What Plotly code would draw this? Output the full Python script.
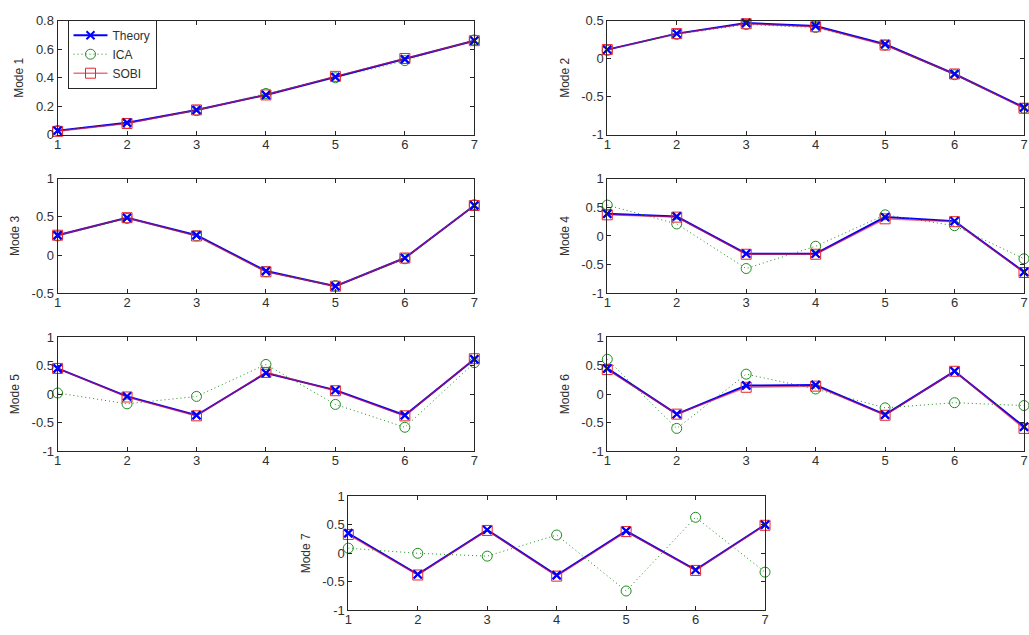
import plotly.graph_objects as go

x = [1, 2, 3, 4, 5, 6, 7]
x_tick_labels = ["1", "2", "3", "4", "5", "6", "7"]

mode_names = ["Mode 1", "Mode 2", "Mode 3", "Mode 4", "Mode 5", "Mode 6", "Mode 7"]

theory_1 = [0.03, 0.085, 0.175, 0.28, 0.405, 0.53, 0.66]
ica_1 = [0.03, 0.08, 0.17, 0.29, 0.40, 0.52, 0.665]
sobi_1 = [0.025, 0.08, 0.175, 0.28, 0.41, 0.535, 0.66]

theory_2 = [0.12, 0.33, 0.47, 0.43, 0.19, -0.20, -0.64]
ica_2 = [0.11, 0.32, 0.45, 0.41, 0.18, -0.21, -0.65]
sobi_2 = [0.12, 0.33, 0.46, 0.42, 0.18, -0.20, -0.65]

theory_3 = [0.26, 0.49, 0.26, -0.21, -0.41, -0.04, 0.65]
ica_3 = [0.25, 0.48, 0.25, -0.22, -0.40, -0.05, 0.66]
sobi_3 = [0.26, 0.49, 0.25, -0.22, -0.41, -0.04, 0.65]

theory_4 = [0.39, 0.34, -0.31, -0.31, 0.33, 0.26, -0.63]
ica_4 = [0.54, 0.21, -0.57, -0.18, 0.37, 0.18, -0.40]
sobi_4 = [0.37, 0.33, -0.32, -0.32, 0.30, 0.25, -0.64]

theory_5 = [0.45, -0.04, -0.37, 0.37, 0.07, -0.37, 0.61]
ica_5 = [0.02, -0.17, -0.04, 0.52, -0.18, -0.58, 0.55]
sobi_5 = [0.45, -0.05, -0.38, 0.38, 0.06, -0.38, 0.62]

theory_6 = [0.45, -0.35, 0.15, 0.16, -0.36, 0.40, -0.57]
ica_6 = [0.61, -0.60, 0.35, 0.09, -0.24, -0.15, -0.20]
sobi_6 = [0.43, -0.35, 0.12, 0.14, -0.37, 0.40, -0.60]

theory_7 = [0.35, -0.37, 0.41, -0.385, 0.39, -0.29, 0.50]
ica_7 = [0.09, 0.00, -0.05, 0.32, -0.66, 0.63, -0.33]
sobi_7 = [0.33, -0.38, 0.40, -0.40, 0.38, -0.30, 0.49]

theory = [theory_1, theory_2, theory_3, theory_4, theory_5, theory_6, theory_7]
ica = [ica_1, ica_2, ica_3, ica_4, ica_5, ica_6, ica_7]
sobi = [sobi_1, sobi_2, sobi_3, sobi_4, sobi_5, sobi_6, sobi_7]

y_ranges = [[0, 0.8], [-1, 0.5], [-0.5, 1], [-1, 1], [-1, 1], [-1, 1], [-1, 1]]
y_tick_vals = [
    [0, 0.2, 0.4, 0.6, 0.8],
    [-1, -0.5, 0, 0.5],
    [-0.5, 0, 0.5, 1],
    [-1, -0.5, 0, 0.5, 1],
    [-1, -0.5, 0, 0.5, 1],
    [-1, -0.5, 0, 0.5, 1],
    [-1, -0.5, 0, 0.5, 1],
]
y_tick_labels = [
    ["0", "0.2", "0.4", "0.6", "0.8"],
    ["-1", "-0.5", "0", "0.5"],
    ["-0.5", "0", "0.5", "1"],
    ["-1", "-0.5", "0", "0.5", "1"],
    ["-1", "-0.5", "0", "0.5", "1"],
    ["-1", "-0.5", "0", "0.5", "1"],
    ["-1", "-0.5", "0", "0.5", "1"],
]

W, H = 1029, 635
PW, PH = 420, 117
lefts = [54, 608]
tops = [14, 176, 338, 501]

FONT = "Arial, Liberation Sans, sans-serif"
TXT = "#303030"
AX = "#262626"

BLUE = "#0000FF"
GREEN = "#1E8C1E"
RED = "#E8242B"
RED_LINE = "rgba(225, 20, 40, 0.6)"

fig = go.Figure()
layout = {}

for k in range(7):
    row, col = divmod(k, 2)
    left = 347 if k == 6 else lefts[col]
    top = tops[row]
    xd = [left / W, (left + PW) / W]
    yd = [1 - (top + PH) / H, 1 - top / H]
    sfx = "" if k == 0 else str(k + 1)
    xa, ya = "x" + sfx, "y" + sfx
    common = dict(
        showline=True, linecolor=AX, linewidth=1, mirror="ticks",
        ticks="inside", ticklen=4, tickcolor=AX, tickwidth=1,
        showgrid=False, zeroline=False,
        tickfont=dict(family=FONT, size=13, color=TXT),
    )
    layout["xaxis" + sfx] = dict(
        domain=xd, anchor=ya, range=[1, 7],
        tickvals=x, ticktext=x_tick_labels, ticklabelstandoff=-3, **common,
    )
    layout["yaxis" + sfx] = dict(
        domain=yd, anchor=xa, range=y_ranges[k],
        tickvals=y_tick_vals[k], ticktext=y_tick_labels[k],
        title=dict(text=mode_names[k], font=dict(family=FONT, size=12, color=TXT), standoff=9),
        **common,
    )
    show = (k == 0)
    fig.add_trace(go.Scatter(
        x=x, y=theory[k], xaxis=xa, yaxis=ya, name="Theory", mode="lines+markers",
        line=dict(color=BLUE, width=2),
        marker=dict(symbol="x-thin", size=8, line=dict(color=BLUE, width=2), color=BLUE),
        showlegend=show, cliponaxis=False,
    ))
    fig.add_trace(go.Scatter(
        x=x, y=ica[k], xaxis=xa, yaxis=ya, name="ICA", mode="lines+markers",
        line=dict(color=GREEN, width=1, dash="1px,3px"),
        marker=dict(symbol="circle-open", size=10, line=dict(color=GREEN, width=1), color=GREEN),
        showlegend=show, cliponaxis=False,
    ))
    fig.add_trace(go.Scatter(
        x=x, y=sobi[k], xaxis=xa, yaxis=ya, name="SOBI", mode="lines+markers",
        line=dict(color=RED_LINE, width=1.5),
        marker=dict(symbol="square-open", size=10, line=dict(color=RED, width=1), color=RED),
        showlegend=show, cliponaxis=False,
    ))
    fig.add_trace(go.Scatter(
        x=x, y=theory[k], xaxis=xa, yaxis=ya, mode="markers",
        marker=dict(symbol="x-thin", size=8, line=dict(color=BLUE, width=2), color=BLUE),
        showlegend=False, hoverinfo="skip", cliponaxis=False,
    ))

fig.update_layout(
    width=W, height=H,
    margin=dict(l=0, r=0, t=0, b=0),
    paper_bgcolor="white", plot_bgcolor="white",
    font=dict(family=FONT, size=12, color=TXT),
    legend=dict(
        x=64 / W, y=1 - 13 / H, xanchor="left", yanchor="top",
        bgcolor="white", bordercolor=AX, borderwidth=1,
        font=dict(family=FONT, size=12, color=TXT),
        tracegroupgap=0, itemwidth=34,
    ),
    **layout,
)

fig.write_html("out.html")
